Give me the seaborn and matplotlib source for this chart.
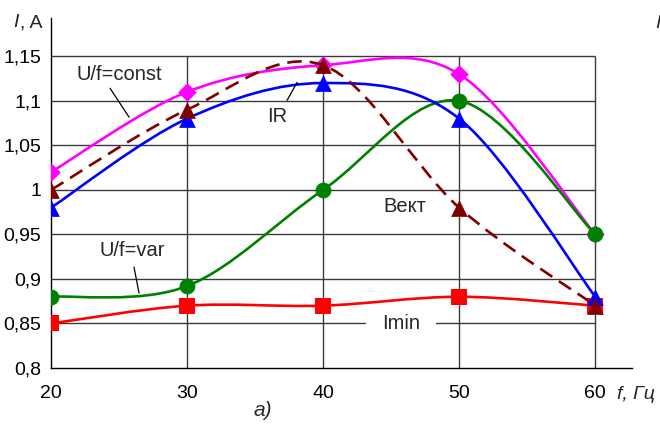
import numpy as np
import matplotlib
matplotlib.use("Agg")
import matplotlib.pyplot as plt
import seaborn as sns
from matplotlib.path import Path
from matplotlib.patches import PathPatch

# ---- data ----
freq = [20, 30, 40, 50, 60]
i_const = [1.02, 1.11, 1.14, 1.13, 0.95]   # U/f=const
i_vect = [1.00, 1.09, 1.14, 0.98, 0.87]    # Вект
i_ir = [0.98, 1.08, 1.12, 1.08, 0.88]      # IR
i_var = [0.88, 0.892, 1.00, 1.10, 0.95]    # U/f=var
i_min = [0.85, 0.87, 0.87, 0.88, 0.87]     # Imin
x_ticks = [20, 30, 40, 50, 60]
x_tick_labels = ["20", "30", "40", "50", "60"]
y_ticks = [0.8, 0.85, 0.9, 0.95, 1.0, 1.05, 1.1, 1.15]
y_tick_labels = ["0,8", "0,85", "0,9", "0,95", "1", "1,05", "1,1", "1,15"]

sns.set_style("white")
plt.rcParams["font.family"] = ["Liberation Sans", "DejaVu Sans"]

fig = plt.figure(figsize=(6.6, 4.25), dpi=100)
ax = fig.add_axes([51 / 660, 1 - 368 / 425, (632 - 51) / 660, (368 - 18) / 425])
ax.set_xlim(20, 62.7)
ax.set_ylim(0.8, 1.193)


def smooth_path(xs, ys):
    pts = np.column_stack([xs, ys]).astype(float)
    n = len(pts)
    verts = [pts[0]]
    codes = [Path.MOVETO]
    for i in range(n - 1):
        p0 = pts[max(i - 1, 0)]
        p1 = pts[i]
        p2 = pts[i + 1]
        p3 = pts[min(i + 2, n - 1)]
        c1 = p1 + (p2 - p0) / 6.0
        c2 = p2 - (p3 - p1) / 6.0
        verts += [c1, c2, p2]
        codes += [Path.CURVE4] * 3
    return Path(verts, codes)


# grid
ax.hlines(y_ticks[1:], 20, 60, colors="#3a3a3a", lw=1.0, zorder=1)
ax.vlines(x_ticks[1:], 0.8, 1.15, colors="#3a3a3a", lw=1.0, zorder=1)

series = [
    (i_const, "#FF00FF", "D", 90, "-", 3),
    (i_var, "#008000", "o", 130, "-", 3.2),
    (i_min, "#FF0000", "s", 130, "-", 3.1),
    (i_ir, "#0000FF", "^", 145, "-", 3.3),
    (i_vect, "#800000", "^", 145, (0, (5.5, 3.0)), 3.4),
]
for vals, col, mk, sz, ls, z in series:
    patch = PathPatch(smooth_path(freq, vals), facecolor="none", edgecolor=col,
                      lw=1.9, linestyle=ls, zorder=z, capstyle="butt")
    ax.add_patch(patch)
    sns.scatterplot(x=freq, y=vals, marker=mk, color=col, s=sz, linewidth=0,
                    ax=ax, zorder=z + 0.05, legend=False)

# axes styling
for s in ["top", "right"]:
    ax.spines[s].set_visible(False)
for s in ["left", "bottom"]:
    ax.spines[s].set_color("black")
    ax.spines[s].set_linewidth(1.0)
ax.set_xticks(x_ticks)
ax.set_xticklabels(x_tick_labels)
ax.set_yticks(y_ticks)
ax.set_yticklabels(y_tick_labels)
ax.tick_params(axis="both", which="both", direction="out", length=4, width=1,
               color="black", labelsize=14, labelcolor="black")
ax.tick_params(axis="x", pad=8)
ax.tick_params(axis="y", pad=3)
ax.set_xlabel("")
ax.set_ylabel("")

fs = 14.5
ax.text(25.04, 1.1298, "U/f=const", fontsize=fs, ha="center", va="center", zorder=5)
ax.plot([24.34, 25.74], [1.1141, 1.0816], color="black", lw=0.9, zorder=5)
ax.text(36.6, 1.0827, "IR", fontsize=fs, ha="center", va="center", zorder=5)
ax.plot([37.35, 38.09], [1.1006, 1.1208], color="black", lw=0.9, zorder=5)
ax.text(46.03, 0.9817, "Вект", fontsize=fs, ha="center", va="center", zorder=5)
ax.text(25.99, 0.9324, "U/f=var", fontsize=fs, ha="center", va="center", zorder=5)
ax.plot([26.10, 26.47], [0.9133, 0.8841], color="black", lw=0.9, zorder=5)
ax.text(45.74, 0.85, "Imin", fontsize=fs, ha="center", va="center", zorder=1.5,
        bbox=dict(boxstyle="square,pad=0.8", facecolor="white", edgecolor="none"))

# axis titles and captions
fig.text(13 / 660, 1 - 27 / 425, "I", fontsize=14, style="italic", va="baseline", ha="left")
fig.text(20 / 660, 1 - 27 / 425, ", A", fontsize=14, va="baseline", ha="left")
fig.text(617 / 660, 1 - 399 / 425, "f, Гц", fontsize=14, style="italic", va="baseline", ha="left")
fig.text(254 / 660, 1 - 416 / 425, "а)", fontsize=15, style="italic", va="baseline", ha="left")
fig.text(655 / 660, 1 - 28 / 425, "I", fontsize=14, style="italic", va="baseline", ha="left")

fig.savefig("out.png", dpi=100)
